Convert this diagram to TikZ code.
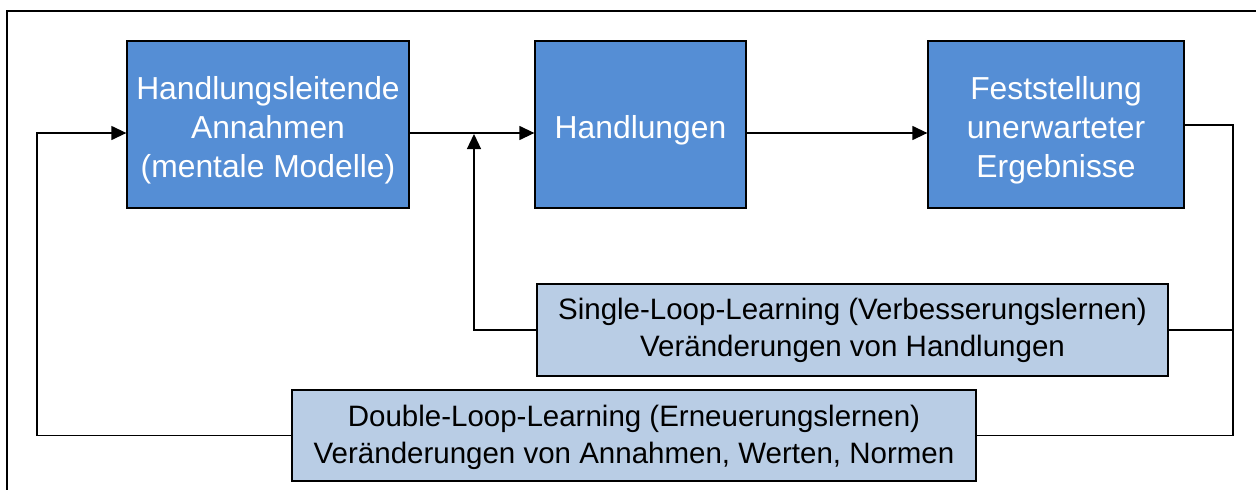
\documentclass[tikz,border=0pt]{standalone}
\usepackage{fontspec}
\setmainfont{Liberation Sans}
\usetikzlibrary{arrows.meta,calc}
\definecolor{stepblue}{HTML}{558ED5}
\definecolor{loopblue}{HTML}{B9CDE5}
\tikzset{
  stagebox/.style={draw=black, line width=1.3pt, fill=stepblue,
    minimum width=282pt, minimum height=167pt, inner sep=0pt},
  stagetext/.style={text=white, align=center, inner sep=0pt,
    font=\fontsize{31.8}{39}\selectfont},
  loopbox/.style={draw=black, line width=1.3pt, fill=loopblue, text=black,
    minimum height=92pt, align=center, inner sep=0pt,
    font=\fontsize{29.5}{37}\selectfont},
  link/.style={line width=1.3pt, draw=black},
  tip/.style={-{Triangle[length=15pt,width=14pt]}},
}
\begin{document}
\begin{tikzpicture}[x=1pt,y=-1pt]
\useasboundingbox (0,0) rectangle (1256,490);
\begin{scope}
  \clip (0,0) rectangle (1256,490);
  \draw[line width=1.3pt] (7,11) rectangle (1270,510);
\end{scope}

% process stages
\node[stagebox] (annahmen) at (268,124.5) {};
\node[stagebox, minimum width=211pt] (handlungen) at (640.5,124.5) {};
\node[stagebox, minimum width=256pt] (feststellung) at (1056,124.5) {};
\node[stagetext] (annahmenText) at ($(annahmen.center)+(0,6)$) {Handlungsleitende\\Annahmen\\(mentale Modelle)};
\node[stagetext] (handlungenText) at ($(handlungen.center)+(0,6)$) {Handlungen};
\node[stagetext] (feststellungText) at ($(feststellung.center)+(0,6)$) {Feststellung\\unerwarteter\\Ergebnisse};

% learning loops
\node[loopbox, minimum width=631pt] (single) at (852.5,330) {Single-Loop-Learning (Verbesserungslernen)\\Veränderungen von Handlungen};
\node[loopbox, minimum width=684pt, minimum height=91pt] (double) at (634,435.5) {};
\node[align=center, inner sep=0pt, font=\fontsize{29.5}{37}\selectfont] (doubleText) at ($(double.center)+(0,2)$) {Double-Loop-Learning (Erneuerungslernen)\\Veränderungen von Annahmen, Werten, Normen};

% routing points
\coordinate (joinL) at (474,133);
\coordinate (rightTop) at (1233,125);
\coordinate (leftX) at (37,133);

% main flow
\draw[link, tip] (annahmen.east |- joinL) -- (handlungen.west |- joinL);
\draw[link, tip] (handlungen.east |- joinL) -- (feststellung.west |- joinL);

% feedback from results
\draw[link] (feststellung.east |- rightTop) -- (rightTop) -- (rightTop |- double.east) -- (double.east);
\draw[link] (rightTop |- single.east) -- (single.east);

% single loop back into action
\draw[link, tip] (single.west) -- (joinL |- single.west) -- ($(joinL)+(0,1)$);

% double loop back into assumptions
\draw[link, tip] (double.west) -- (leftX |- double.west) -- (leftX) -- (annahmen.west |- leftX);
\end{tikzpicture}
\end{document}
